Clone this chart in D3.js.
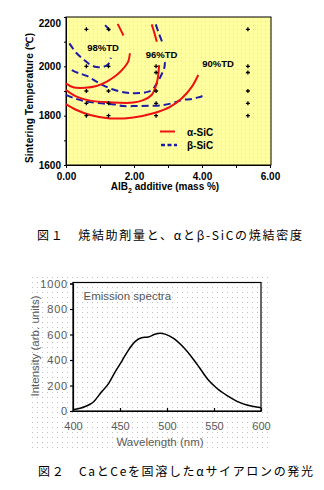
<!DOCTYPE html>
<html>
<head>
<meta charset="utf-8">
<script src="https://cdn.jsdelivr.net/npm/d3@7"></script>
<style>
  html, body { margin: 0; padding: 0; background: #fff; }
  svg { display: block; }
</style>
</head>
<body>
<svg id="chart" width="324" height="490"></svg>
<script>
// --- Fig.1 data: density contours (AlB2 mass %, sintering temperature °C)
const alpha98 = [[0,1931],[0.21,1915],[0.56,1913],[0.9,1920],[1.2,1938],[1.49,1965],[1.69,1992],[1.83,2019],[1.88,2053]];
const alpha98Top = [[1.52,2172],[1.6,2150],[1.69,2125]];
const alpha96 = [[0,1904],[0.31,1877],[0.71,1861],[1.29,1854],[1.98,1853],[2.27,1863],[2.52,1884],[2.62,1911],[2.69,1945],[2.74,2005]];
const alpha96Top = [[2.52,2170],[2.6,2135],[2.67,2100]];
const alpha90 = [[0,1847],[0.31,1823],[0.71,1803],[1.29,1789],[1.98,1793],[2.57,1810],[3.06,1836],[3.4,1870],[3.7,1917],[3.89,1965]];

const beta98 = [[0.1,2093],[0.3,2055],[0.5,2030],[0.7,2008],[0.9,1997],[1.1,1998],[1.25,2010],[1.32,2035]];
const beta98Top = [[1.15,2167],[1.22,2157],[1.29,2145]];
const beta96 = [[0.17,1985],[0.38,1972],[0.63,1960],[0.97,1932],[1.34,1908],[1.74,1894],[2.03,1891],[2.32,1894],[2.53,1904],[2.67,1931],[2.79,1961],[2.89,1993],[2.91,2017]];
const beta96Top = [[2.64,2170],[2.74,2130],[2.84,2095]];
const beta90 = [[0,1884],[0.26,1870],[0.61,1857],[1.05,1850],[1.44,1845],[1.69,1839],[2.08,1839],[2.47,1840],[2.86,1843],[3.16,1852],[3.4,1863],[3.7,1868],[3.89,1874],[4.09,1884]];

const samplePoints = [
  [0.6,2150],[0.6,2000],[0.6,1900],[0.6,1850],[0.6,1800],
  [1.25,2150],[1.25,2000],[1.25,1900],[1.25,1850],[1.25,1800],
  [2.65,2000],[2.65,1975],[2.65,1900],[2.65,1850],[2.65,1800],
  [5.35,2150],[5.35,2000],[5.35,1975],[5.35,1900],[5.35,1850],[5.35,1800]
];
const contourLabels = [["98%TD",1.09,2062],["96%TD",2.81,2034],["90%TD",4.47,1997]];
const xTicksTop = [0,1,2,3,4,5,6];
const yTicksTop = [1600,1700,1800,1900,2000,2100,2200];

// --- Fig.2 data: emission spectrum
const wavelength = [400,413,422,430,438,445,452,459,466,473,480,487,493,498,507,517,526,535,544,553,564,574,585,595,600];
const intensity  = [10,35,73,147,217,308,392,478,544,575,580,602,610,603,570,504,426,335,243,178,120,78,47,31,26];
const xTicksBot = [400,450,500,550,600];
const yTicksBot = [0,200,400,600,800,1000];

const RED = "#ee1111";
const BLUE = "#1c1ca6";
const svg = d3.select("#chart");

const defs = svg.append("defs");
const yp = defs.append("pattern").attr("id", "yellowDots")
  .attr("width", 4).attr("height", 4).attr("patternUnits", "userSpaceOnUse");
yp.append("rect").attr("width", 4).attr("height", 4).attr("fill", "#ffffa0");
yp.append("rect").attr("x", 1).attr("y", 1).attr("width", 1).attr("height", 1).attr("fill", "#e6e690");
const gp = defs.append("pattern").attr("id", "grayDots")
  .attr("width", 5).attr("height", 5).attr("patternUnits", "userSpaceOnUse");
gp.append("rect").attr("width", 5).attr("height", 5).attr("fill", "#fff");
gp.append("rect").attr("x", 2).attr("y", 2).attr("width", 1).attr("height", 1).attr("fill", "#c0c0c0");

// ================= Fig.1 =================
const xTop = d3.scaleLinear().domain([0, 6]).range([66, 270]);
const yTop = d3.scaleLinear().domain([1600, 2200]).range([165, 17]);
const boldFont = "'Liberation Sans', Arial, sans-serif";

const fig1 = svg.append("g");
fig1.append("rect")
  .attr("x", xTop(0)).attr("y", yTop(2200))
  .attr("width", xTop(6) - xTop(0) + 1).attr("height", yTop(1600) - yTop(2200))
  .attr("fill", "url(#yellowDots)").attr("stroke", "#000").attr("stroke-width", 1);

const axX = fig1.append("g").attr("transform", `translate(0,${yTop(1600)})`)
  .call(d3.axisBottom(xTop).tickValues(xTicksTop)
    .tickFormat(d => d % 2 === 0 ? d.toFixed(2) : "").tickSize(3).tickPadding(5));
const axY = fig1.append("g").attr("transform", `translate(${xTop(0)},0)`)
  .call(d3.axisLeft(yTop).tickValues(yTicksTop)
    .tickFormat(d => d % 200 === 0 ? d : "").tickSize(2).tickPadding(3));
[axX, axY].forEach(a => {
  a.selectAll("text").attr("font-family", boldFont).attr("font-weight", "bold")
    .attr("font-size", 10).attr("fill", "#000");
  a.selectAll("line, path").attr("stroke", "#000");
});
axY.selectAll(".tick").filter(d => d === 2200).select("text").attr("dy", "0.95em");

const line = d3.line().x(d => xTop(d[0])).y(d => yTop(d[1])).curve(d3.curveCatmullRom);

[beta98, beta98Top, beta96, beta96Top, beta90].forEach(c => {
  fig1.append("path").attr("d", line(c)).attr("fill", "none")
    .attr("stroke", BLUE).attr("stroke-width", 2).attr("stroke-dasharray", "7,4");
});
[alpha98, alpha98Top, alpha96, alpha96Top, alpha90].forEach(c => {
  fig1.append("path").attr("d", line(c)).attr("fill", "none")
    .attr("stroke", RED).attr("stroke-width", 2);
});

fig1.selectAll(".pt").data(samplePoints).join("path")
  .attr("class", "pt")
  .attr("transform", d => `translate(${xTop(d[0])},${yTop(d[1])})`)
  .attr("d", "M-2,0H2M0,-2V2")
  .attr("stroke", "#000").attr("stroke-width", 1.3);

fig1.selectAll(".clab").data(contourLabels).join("text")
  .attr("class", "clab")
  .attr("x", d => xTop(d[1])).attr("y", d => yTop(d[2]))
  .attr("text-anchor", "middle")
  .attr("font-family", boldFont).attr("font-weight", "bold").attr("font-size", 9.5)
  .text(d => d[0]);

// legend
fig1.append("line").attr("x1", 160).attr("x2", 175).attr("y1", 131.5).attr("y2", 131.5)
  .attr("stroke", RED).attr("stroke-width", 2);
fig1.append("line").attr("x1", 161).attr("x2", 177).attr("y1", 145).attr("y2", 145)
  .attr("stroke", BLUE).attr("stroke-width", 2.5).attr("stroke-dasharray", "4,2.5");
fig1.append("text").attr("x", 187).attr("y", 135.5)
  .attr("font-family", boldFont).attr("font-weight", "bold").attr("font-size", 10).text("α-SiC");
fig1.append("text").attr("x", 187).attr("y", 149)
  .attr("font-family", boldFont).attr("font-weight", "bold").attr("font-size", 10).text("β-SiC");

// axis titles
const xt = fig1.append("text").attr("x", 165).attr("y", 190).attr("text-anchor", "middle")
  .attr("font-family", boldFont).attr("font-weight", "bold").attr("font-size", 10);
xt.append("tspan").text("AlB");
xt.append("tspan").attr("font-size", 7).attr("dy", 2.5).text("2");
xt.append("tspan").attr("dy", -2.5).text(" additive (mass %)");

fig1.append("text")
  .attr("transform", "translate(32.5,98) rotate(-90)")
  .attr("text-anchor", "middle")
  .attr("font-family", boldFont).attr("font-weight", "bold").attr("font-size", 10)
  .attr("textLength", 130).attr("lengthAdjust", "spacing")
  .text("Sintering Temperature  (℃)");

// caption 1
svg.append("text").attr("x", 37).attr("y", 240)
  .attr("font-family", "'Noto Sans CJK JP', sans-serif").attr("font-size", 12)
  .attr("textLength", 265).attr("lengthAdjust", "spacing")
  .text("図１　焼結助剤量と、αとβ-SiCの焼結密度");

// ================= Fig.2 =================
const fig2 = svg.append("g");
fig2.append("rect").attr("x", 28).attr("y", 277).attr("width", 240).attr("height", 174)
  .attr("fill", "url(#grayDots)");

const xBot = d3.scaleLinear().domain([400, 600]).range([73, 261]);
const yBot = d3.scaleLinear().domain([0, 1000]).range([411, 283.5]);
const thinFont = "'Liberation Sans', Arial, sans-serif";

fig2.append("rect")
  .attr("x", xBot(400)).attr("y", yBot(1000) - 1)
  .attr("width", xBot(600) - xBot(400)).attr("height", yBot(0) - yBot(1000) + 1)
  .attr("fill", "none").attr("stroke", "#000").attr("stroke-width", 1.2);

const bx = fig2.append("g").attr("transform", `translate(0,${yBot(0)})`)
  .call(d3.axisBottom(xBot).tickValues(xTicksBot).tickSizeInner(-3).tickSizeOuter(0).tickPadding(11));
const by = fig2.append("g").attr("transform", `translate(${xBot(400)},0)`)
  .call(d3.axisLeft(yBot).tickValues(yTicksBot).tickFormat(d3.format("d"))
    .tickSizeOuter(0).tickSize(3).tickPadding(2));
[bx, by].forEach(a => {
  a.selectAll("text").attr("font-family", thinFont).attr("font-size", 11).attr("fill", "#5a5a5a");
  a.selectAll("line, path").attr("stroke", "#000").attr("stroke-width", 1.2);
});
by.selectAll("text").attr("letter-spacing", 0.8);

const spec = wavelength.map((w, i) => [w, intensity[i]]);
fig2.append("path")
  .attr("d", d3.line().x(d => xBot(d[0])).y(d => yBot(d[1])).curve(d3.curveMonotoneX)(spec))
  .attr("fill", "none").attr("stroke", "#000").attr("stroke-width", 1.5);

fig2.append("text").attr("x", 83.5).attr("y", 300)
  .attr("font-family", thinFont).attr("font-size", 11.5).attr("fill", "#555")
  .text("Emission spectra");
fig2.append("text").attr("x", 160).attr("y", 446).attr("text-anchor", "middle")
  .attr("font-family", thinFont).attr("font-size", 11.5).attr("fill", "#5a5a5a")
  .text("Wavelength (nm)");
fig2.append("text")
  .attr("transform", "translate(38.5,346) rotate(-90)")
  .attr("text-anchor", "middle")
  .attr("font-family", thinFont).attr("font-size", 11.5).attr("fill", "#5a5a5a")
  .text("Intensity (arb. units)");

// caption 2
svg.append("text").attr("x", 38).attr("y", 476)
  .attr("font-family", "'Noto Sans CJK JP', sans-serif").attr("font-size", 12)
  .attr("textLength", 275).attr("lengthAdjust", "spacing")
  .text("図２　CaとCeを固溶したαサイアロンの発光");
</script>
</body>
</html>
